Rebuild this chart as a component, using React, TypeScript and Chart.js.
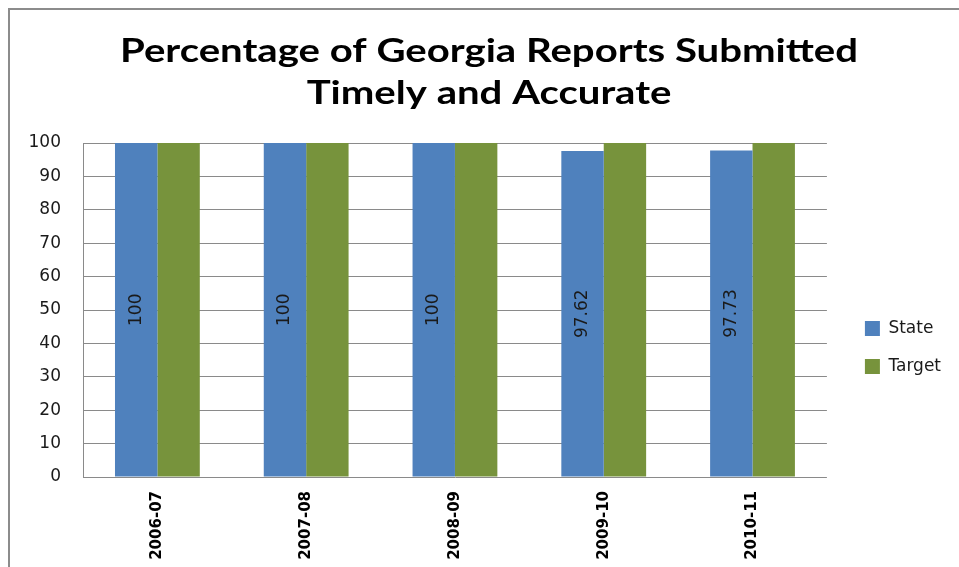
import React, { useEffect, useRef } from "react";
import { Chart, registerables } from "chart.js";

Chart.register(...registerables);

const titleLines = ["Percentage of Georgia Reports Submitted", "Timely and Accurate"];
const categories = ["2006-07", "2007-08", "2008-09", "2009-10", "2010-11"];
const stateValues = [100, 100, 100, 97.62, 97.73];
const targetValues = [100, 100, 100, 100, 100];
const stateLabels = ["100", "100", "100", "97.62", "97.73"];
const yTicks = [0, 10, 20, 30, 40, 50, 60, 70, 80, 90, 100];

const titlePlugin = {
  id: "stretchedTitle",
  afterDraw(chart: any) {
    const ctx = chart.ctx;
    ctx.save();
    ctx.fillStyle = "#000";
    ctx.font = "bold 32px Lato";
    ctx.textAlign = "center";
    ctx.textBaseline = "alphabetic";
    const w = ctx.measureText(titleLines[0]).width;
    const sx = 738 / w;
    const cx = 489;
    const baselines = [62, 103.5];
    titleLines.forEach((line, i) => {
      ctx.save();
      ctx.translate(cx, baselines[i]);
      ctx.scale(sx, 1);
      ctx.fillText(line, 0, 0);
      ctx.restore();
    });
    ctx.restore();
  },
};

const barLabelPlugin = {
  id: "barLabels",
  afterDatasetsDraw(chart: any) {
    const ctx = chart.ctx;
    const meta = chart.getDatasetMeta(0);
    ctx.save();
    ctx.fillStyle = "#1a1a1a";
    ctx.font = "17px 'DejaVu Sans'";
    ctx.textAlign = "center";
    ctx.textBaseline = "middle";
    meta.data.forEach((el: any, i: number) => {
      const cy = (el.y + el.base) / 2;
      ctx.save();
      ctx.translate(el.x, cy);
      ctx.rotate(-Math.PI / 2);
      ctx.fillText(stateLabels[i], 0, 0);
      ctx.restore();
    });
    ctx.restore();
  },
};

export default function App() {
  const ref = useRef<HTMLCanvasElement>(null);
  useEffect(() => {
    if (!ref.current) return;
    const chart = new Chart(ref.current, {
      type: "bar",
      data: {
        labels: categories,
        datasets: [
          {
            label: "State",
            data: stateValues,
            backgroundColor: "#4F81BD",
            borderWidth: 0,
            categoryPercentage: 0.57,
            barPercentage: 1,
            yAxisID: "y",
          },
          {
            label: "Target",
            data: targetValues,
            backgroundColor: "#77933C",
            borderWidth: 0,
            categoryPercentage: 0.57,
            barPercentage: 1,
            yAxisID: "y",
          },
        ],
      },
      options: {
        animation: false,
        responsive: false,
        maintainAspectRatio: false,
        layout: { padding: { left: 0, right: 8, top: 143, bottom: 0 } },
        plugins: {
          title: { display: false },
          legend: {
            position: "right",
            fullSize: false,
            title: {
              display: true,
              text: " ",
              font: { size: 12, lineHeight: 1.2 },
              padding: { top: 60.6, bottom: 0 },
            },
            labels: {
              boxWidth: 15,
              boxHeight: 15,
              color: "#1a1a1a",
              font: { family: "DejaVu Sans", size: 17 },
              padding: 21,
            },
          },
          tooltip: { enabled: false },
        },
        scales: {
          x: {
            grid: { display: false, drawTicks: false },
            border: { display: false },
            afterFit(scale: any) {
              scale.height = 90;
            },
            ticks: {
              color: "#000",
              font: { family: "DejaVu Sans", size: 15, weight: "bold" },
              minRotation: 90,
              maxRotation: 90,
              padding: 14,
            },
          },
          y: {
            min: 0,
            max: 100,
            afterBuildTicks(scale: any) {
              scale.ticks = yTicks.map((v) => ({ value: v }));
            },
            afterFit(scale: any) {
              scale.width = 83;
            },
            grid: { color: "#8a8a8a", lineWidth: 1, drawTicks: false },
            border: { display: true, color: "#8a8a8a", width: 1 },
            ticks: {
              color: "#1a1a1a",
              font: { family: "DejaVu Sans", size: 17 },
              padding: 22,
            },
          },
          gap: {
            type: "linear",
            position: "right",
            display: true,
            grid: { display: false, drawTicks: false },
            border: { display: false },
            ticks: { display: false },
            afterFit(scale: any) {
              scale.width = 17;
            },
          },
        },
      },
      plugins: [barLabelPlugin, titlePlugin],
    });
    return () => chart.destroy();
  }, []);

  return (
    <div style={{ position: "fixed", left: 0, top: 0, width: 959, height: 567, background: "#fff", overflow: "hidden" }}>
      <div
        style={{
          position: "absolute",
          left: 8,
          top: 8,
          width: 1100,
          height: 1100,
          border: "2px solid #8c8c8c",
        }}
      />
      <canvas ref={ref} width={959} height={567} style={{ position: "absolute", left: 0, top: 0 }} />
    </div>
  );
}
